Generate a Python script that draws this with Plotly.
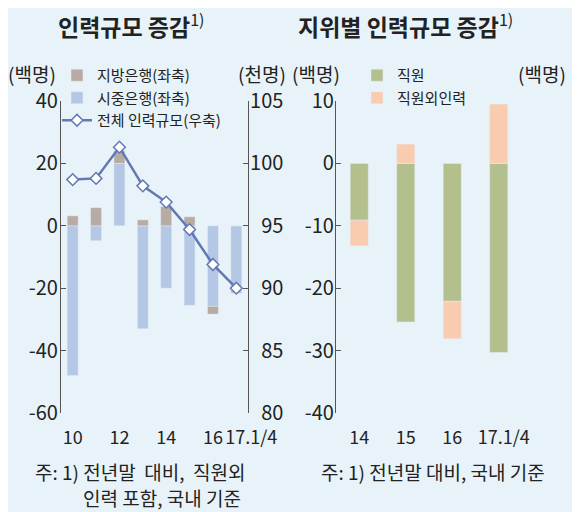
import plotly.graph_objects as go

# 왼쪽: 인력규모 증감
years = ['10', '11', '12', '13', '14', '15', '16', '17.1/4']
year_labels = ['10', '', '12', '', '14', '', '16', '\u2007\u2007\u200717.1/4']
local_bank = [3.2, 5.8, 4.0, 1.9, 6.2, 2.9, -2.5, 0]        # 지방은행(좌축)
national_bank = [-48, -4.8, 20, -33, -20, -25.5, -25.8, -21.7]  # 시중은행(좌축)
total_staff = [98.7, 98.8, 101.3, 98.2, 96.9, 94.7, 91.9, 90.0]  # 전체 인력규모(우축)
left_ticks = [-60, -40, -20, 0, 20, 40]
right_ticks = [80, 85, 90, 95, 100, 105]

# 오른쪽: 지위별 인력규모 증감
years2 = ['14', '15', '16', '17.1/4']
year2_labels = ['14', '15', '16', '\u200717.1/4']
employee = [-9.1, -25.4, -22.1, -30.3]   # 직원
non_employee = [-4.1, 3.1, -6.0, 9.5]    # 직원외인력
ticks2 = [-40, -30, -20, -10, 0, 10]

FONT = 'Noto Sans CJK KR'
BG = '#E8F3F9'
AX = '#555555'
OFF = 7  # 페이지 여백 보정


def px(x):
    return (x - OFF) / 580


def py(y):
    return 1 - (y - OFF) / 512


def lab(v):
    return str(v).replace('\u2212', '-')


y_top = py(100)
y_bot = py(412)
left_dom = [px(60), px(247)]
right_dom = [px(335), px(521)]
zero_left = y_bot + 0.6 * (y_top - y_bot)
zero_right = y_bot + 0.8 * (y_top - y_bot)

fig = go.Figure()
fig.add_trace(go.Bar(x=years, y=national_bank, name='시중은행(좌축)', marker_color='#B4C7E4',
                     width=0.47, xaxis='x', yaxis='y', legend='legend', legendrank=2))
fig.add_trace(go.Bar(x=years, y=local_bank, name='지방은행(좌축)', marker_color='#B7ABA4',
                     width=0.47, xaxis='x', yaxis='y', legend='legend', legendrank=1))
fig.add_trace(go.Scatter(x=years, y=total_staff, name='전체 인력규모(우축)', mode='lines+markers',
                         line=dict(color='#6479B3', width=2.5),
                         marker=dict(symbol='diamond', size=9, color='white',
                                     line=dict(color='#6479B3', width=1.5)),
                         xaxis='x', yaxis='y2', legend='legend', legendrank=3))
fig.add_trace(go.Bar(x=years2, y=employee, name='직원', marker_color='#B4BF8E',
                     width=0.39, xaxis='x2', yaxis='y3', legend='legend2'))
fig.add_trace(go.Bar(x=years2, y=non_employee, name='직원외인력', marker_color='#F9CCAF',
                     width=0.39, xaxis='x2', yaxis='y3', legend='legend2'))

tickfont = dict(family=FONT, size=20, color='#222')
xfont = dict(family=FONT, size=18, color='#222')
yax = dict(showgrid=False, zeroline=False, showline=True, linecolor=AX, linewidth=1.2,
           ticks='inside', ticklen=5, tickcolor=AX, tickfont=tickfont, automargin=False)
zax = dict(anchor='free', showgrid=False, zeroline=False, showline=True, linecolor=AX,
           linewidth=1.2, ticks='inside', ticklen=6, tickcolor=AX, showticklabels=False,
           automargin=False)

fig.update_layout(
    width=580, height=512,
    margin=dict(l=0, r=0, t=0, b=0),
    paper_bgcolor=BG, plot_bgcolor='rgba(0,0,0,0)',
    barmode='relative',
    font=dict(family=FONT, color='#222'),
    xaxis=dict(domain=left_dom, anchor='y', type='category', categoryarray=years,
               tickvals=years, ticktext=year_labels, showgrid=False, showline=False,
               ticks='', tickfont=xfont, tickangle=0, ticklabelstandoff=12,
               range=[-0.5, 7.5], automargin=False),
    xaxis3=dict(overlaying='x', position=zero_left, range=[-0.5, 7.5],
                tickvals=[0.5, 1.5, 2.5, 3.5, 4.5, 5.5, 6.5], **zax),
    yaxis=dict(domain=[y_bot, y_top], anchor='x', range=[-60, 40], tickvals=left_ticks,
               ticktext=[lab(v) for v in left_ticks], ticklabelstandoff=-2, **yax),
    yaxis2=dict(overlaying='y', side='right', anchor='x', range=[80, 105],
                tickvals=right_ticks,
                ticktext=[('\u2007' if v < 100 else '') + lab(v) for v in right_ticks],
                ticklabelstandoff=-3, **yax),
    xaxis2=dict(domain=right_dom, anchor='y3', type='category', categoryarray=years2,
                tickvals=years2, ticktext=year2_labels,
                showgrid=False, showline=False, ticks='', tickfont=xfont, tickangle=0,
                ticklabelstandoff=12, range=[-0.5, 3.5], automargin=False),
    xaxis4=dict(overlaying='x2', position=zero_right, range=[-0.5, 3.5],
                tickvals=[0.5, 1.5, 2.5], **zax),
    yaxis3=dict(domain=[y_bot, y_top], anchor='x2', range=[-40, 10],
                tickvals=ticks2, ticktext=[lab(v) for v in ticks2], ticklabelstandoff=-3, **yax),
    yaxis4=dict(overlaying='y3', side='right', anchor='x2', range=[-40, 10],
                tickvals=ticks2,
                ticktext=[('\u2007\u2007' if v == 0 else '\u2007' if v > 0 else '') + lab(v)
                          for v in ticks2],
                ticklabelstandoff=16, **yax),
    legend=dict(x=px(56), y=py(58), xanchor='left', yanchor='top',
                bgcolor='rgba(0,0,0,0)', font=dict(family=FONT, size=15, color='#222'),
                tracegroupgap=0, itemwidth=30),
    legend2=dict(x=px(356), y=py(58), xanchor='left', yanchor='top',
                 bgcolor='rgba(0,0,0,0)', font=dict(family=FONT, size=15, color='#222'),
                 tracegroupgap=0, itemwidth=30),
)

notes = [
    dict(x=130, y=24, text='<b>인력규모 증감</b><sup>1)</sup>', size=23, anchor='center'),
    dict(x=404, y=24, text='<b>지위별 인력규모 증감</b><sup>1)</sup>', size=23, anchor='center'),
    dict(x=31, y=72, text='(백명)', size=19, anchor='center'),
    dict(x=261, y=72, text='(천명)', size=19, anchor='center'),
    dict(x=315, y=72, text='(백명)', size=19, anchor='center'),
    dict(x=541, y=72, text='(백명)', size=19, anchor='center'),
    dict(x=32, y=470, text='주: 1) 전년말  대비,  직원외', size=19, anchor='left'),
    dict(x=80, y=496, text='인력 포함, 국내 기준', size=19, anchor='left'),
    dict(x=318, y=470, text='주: 1) 전년말 대비, 국내 기준', size=19, anchor='left'),
]
for n in notes:
    fig.add_annotation(x=px(n['x']), y=py(n['y']), xref='paper', yref='paper',
                       text=n['text'], showarrow=False, xanchor=n['anchor'], yanchor='middle',
                       font=dict(family=FONT, size=n['size'], color='#222'))

fig.write_html('out.html')
